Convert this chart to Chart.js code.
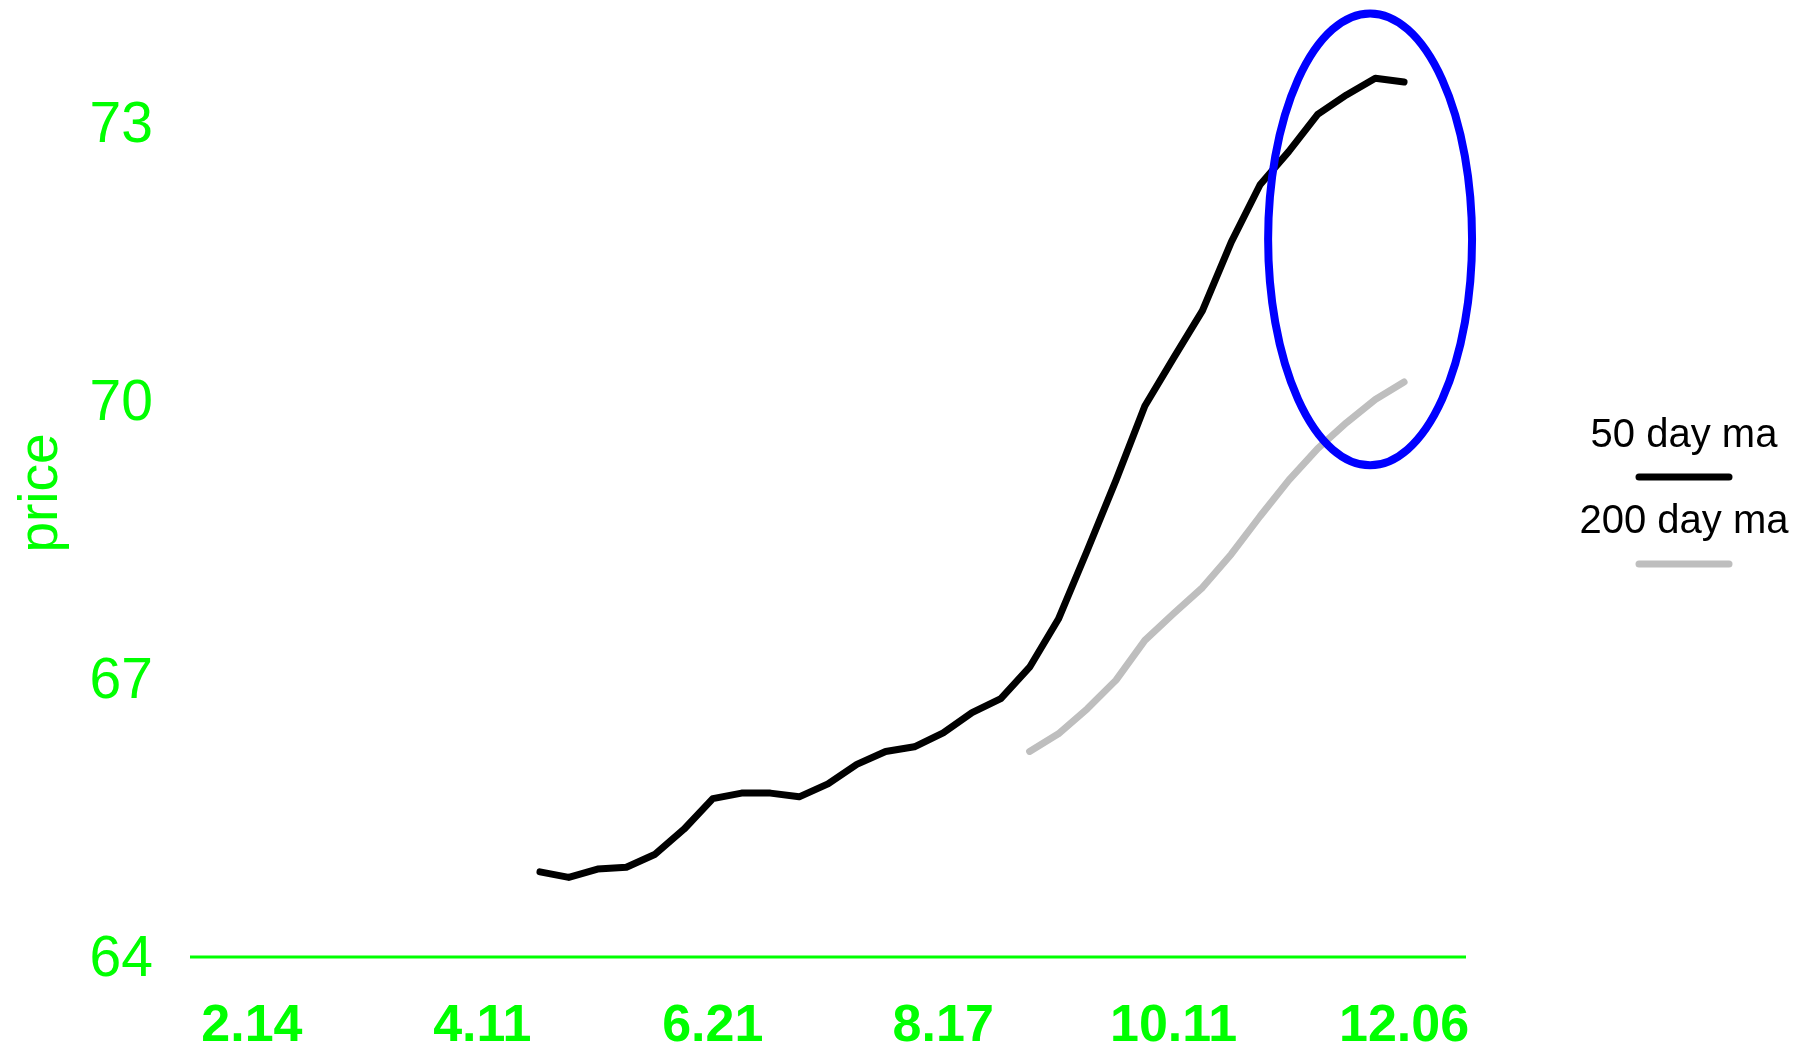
<!DOCTYPE html>
<html><head><meta charset="utf-8">
<script src="https://cdn.jsdelivr.net/npm/chart.js@4.4.1/dist/chart.umd.min.js"></script>
<style>html,body{margin:0;padding:0;background:#fff;} #wrap{width:1810px;height:1051px;}</style>
</head><body><div id="wrap"><canvas id="c" width="1810" height="1051"></canvas></div>
<script>
// ---- data ----
const weekLabels = ['2.14','4.11','6.21','8.17','10.11','12.06'];
const tickIndex = [0, 8, 16, 24, 32, 40];
const yTicks = [64, 67, 70, 73];
const seriesNames = ['50 day ma', '200 day ma'];
const ma50Start = 10;
const ma50 = [64.92, 64.86, 64.95, 64.97, 65.11, 65.38, 65.71, 65.77, 65.77, 65.73,
              65.87, 66.08, 66.22, 66.27, 66.42, 66.64, 66.79, 67.13, 67.65, 68.39,
              69.15, 69.95, 70.47, 70.98, 71.72, 72.34, 72.70, 73.10, 73.31, 73.49, 73.45];
const ma200Start = 27;
const ma200 = [66.22, 66.41, 66.68, 66.99, 67.42, 67.71, 67.99, 68.35, 68.76, 69.15,
               69.49, 69.77, 70.02, 70.21];
// highlight ellipse, in data units (center index / value, radii)
const highlightCenter = [38.82, 71.75];
const highlightRadius = [3.54, 2.44];

const FONT = '"Liberation Sans", Arial, Helvetica, sans-serif';
const GREEN = '#00ff00';
const colors = ['#000000', '#bebebe'];
const LW = 7;

const extras = {
  id: 'extras',
  afterDatasetsDraw(chart) {
    const {ctx, chartArea, scales: {x, y}} = chart;
    ctx.save();
    // green base line at 64
    const y64 = y.getPixelForValue(yTicks[0]);
    ctx.strokeStyle = GREEN; ctx.lineWidth = 3; ctx.lineCap = 'butt';
    ctx.beginPath(); ctx.moveTo(chartArea.left, y64); ctx.lineTo(chartArea.right, y64); ctx.stroke();
    // ellipse
    const cx = x.getPixelForValue(highlightCenter[0]);
    const cy = y.getPixelForValue(highlightCenter[1]);
    const rx = Math.abs(x.getPixelForValue(highlightCenter[0] + highlightRadius[0]) - cx);
    const ry = Math.abs(y.getPixelForValue(highlightCenter[1] + highlightRadius[1]) - cy);
    ctx.strokeStyle = '#0000ff'; ctx.lineWidth = 8;
    ctx.beginPath(); ctx.ellipse(cx, cy, rx, ry, 0, 0, Math.PI * 2); ctx.stroke();
    // legend
    const lx = chartArea.right + 218;
    ctx.font = '40px ' + FONT;
    ctx.textAlign = 'center'; ctx.textBaseline = 'alphabetic'; ctx.fillStyle = '#000';
    const rows = [[447, 477], [533, 564]];
    seriesNames.forEach((name, i) => {
      ctx.fillText(name, lx, rows[i][0]);
      ctx.strokeStyle = colors[i]; ctx.lineWidth = 7; ctx.lineCap = 'round';
      ctx.beginPath(); ctx.moveTo(lx - 45, rows[i][1]); ctx.lineTo(lx + 45, rows[i][1]); ctx.stroke();
    });
    ctx.restore();
  }
};

new Chart(document.getElementById('c'), {
  type: 'line',
  data: {
    datasets: [
      { label: seriesNames[0], data: ma50.map((v, i) => ({x: ma50Start + i, y: v})),
        borderColor: colors[0], borderWidth: LW, pointRadius: 0, tension: 0, fill: false,
        borderCapStyle: 'round', borderJoinStyle: 'round' },
      { label: seriesNames[1], data: ma200.map((v, i) => ({x: ma200Start + i, y: v})),
        borderColor: colors[1], borderWidth: LW, pointRadius: 0, tension: 0, fill: false,
        borderCapStyle: 'round', borderJoinStyle: 'round' }
    ]
  },
  options: {
    responsive: false, devicePixelRatio: 1, animation: false,
    layout: {padding: {left: 0, right: 344, top: 0, bottom: 0}},
    plugins: {legend: {display: false}, tooltip: {enabled: false}},
    scales: {
      x: {
        type: 'linear', min: -2.15, max: 42.15,
        afterBuildTicks: s => { s.ticks = tickIndex.map(v => ({value: v})); },
        ticks: {
          callback: v => weekLabels[tickIndex.indexOf(v)],
          color: GREEN, font: {family: FONT, size: 52, weight: 'bold'},
          padding: 9, maxRotation: 0, autoSkip: false
        },
        grid: {display: false, drawTicks: false},
        border: {display: false},
        afterFit: s => { s.height = 65; s.paddingLeft = 0; s.paddingRight = 0; }
      },
      y: {
        min: 63.687, max: 74.335,
        afterBuildTicks: s => { s.ticks = yTicks.map(v => ({value: v})); },
        ticks: {color: GREEN, font: {family: FONT, size: 57}, padding: 37, labelOffset: 3},
        grid: {display: false, drawTicks: false},
        border: {display: false},
        title: {display: true, text: 'price', color: GREEN, font: {family: FONT, size: 55}, padding: {top: 9, bottom: 0}},
        afterFit: s => { s.width = 190; s.paddingTop = 0; s.paddingBottom = 0; }
      }
    }
  },
  plugins: [extras]
});
</script></body></html>
